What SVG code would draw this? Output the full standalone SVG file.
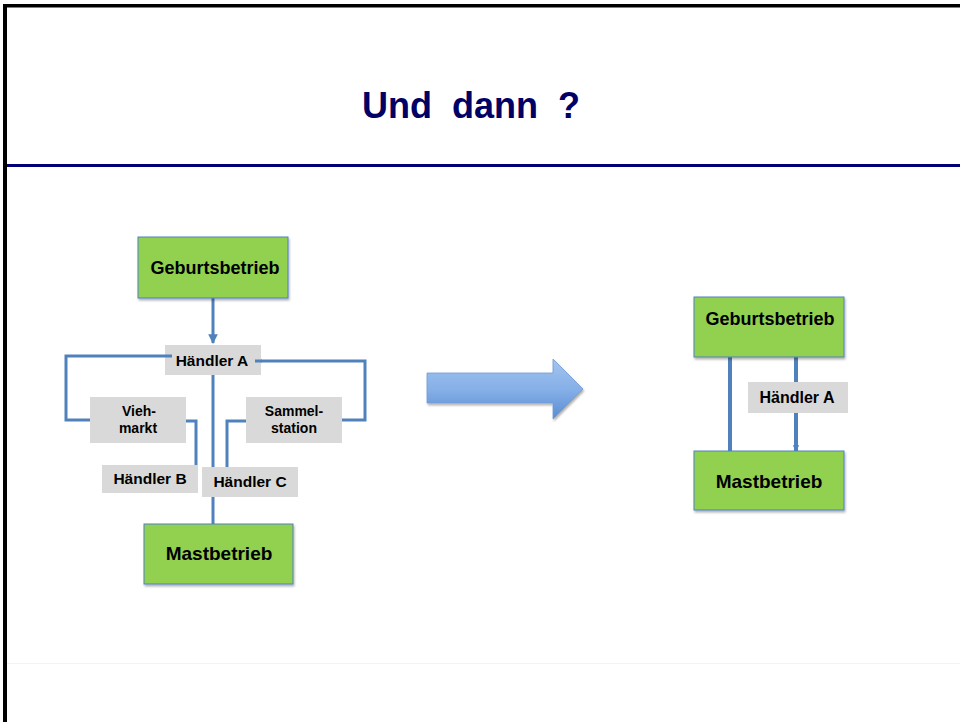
<svg xmlns="http://www.w3.org/2000/svg" width="960" height="722" viewBox="0 0 960 722">
<defs>
<style>
.green{fill:#92D050;stroke:#4F81BD;stroke-width:1}
.gray{fill:#D9D9D9}
.big{font-family:"Liberation Sans",Arial,sans-serif;font-weight:bold;fill:#000;text-anchor:middle}
.lbl{font-family:"Liberation Sans",Arial,sans-serif;font-weight:bold;fill:#000;text-anchor:middle}
.conn{fill:none;stroke:#4F81BD;stroke-width:3}
.conn2{fill:none;stroke:#4F81BD;stroke-width:4}
</style>
<filter id="sh" x="-10%" y="-10%" width="125%" height="135%">
<feDropShadow dx="1" dy="2" stdDeviation="1.2" flood-color="#000" flood-opacity="0.3"/>
</filter>
<marker id="ah" viewBox="0 0 10 10" refX="9" refY="5" markerWidth="3.2" markerHeight="3.2" orient="auto" markerUnits="strokeWidth">
<path d="M0,0 L10,5 L0,10 z" fill="#4F81BD"/>
</marker>
<marker id="ah2" viewBox="0 0 10 10" refX="9" refY="5" markerWidth="1.6" markerHeight="1.8" orient="auto" markerUnits="strokeWidth">
<path d="M0,0 L10,5 L0,10 z" fill="#4F81BD"/>
</marker>
<linearGradient id="ag" x1="0" y1="0" x2="0" y2="1">
<stop offset="0" stop-color="#A3C4F0"/>
<stop offset="0.5" stop-color="#86B0E8"/>
<stop offset="1" stop-color="#5A8CD2"/>
</linearGradient>
</defs>
<rect width="960" height="722" fill="#fff"/>
<g id="frame">
<rect x="3" y="4" width="957" height="3.5" fill="#000"/>
<rect x="3" y="4" width="4" height="718" fill="#000"/>
<rect x="7" y="164" width="953" height="3" fill="#000078"/>
<line x1="7" y1="663.5" x2="960" y2="663.5" stroke="#f3f3f3" stroke-width="1"/>
</g>
<g id="title">
<text x="362" y="118" font-family="Liberation Sans, Arial, sans-serif" font-weight="bold" font-size="36" fill="#000066" xml:space="preserve">Und  dann  ?</text>
</g>
<g id="connectors">
<line class="conn" x1="213" y1="298" x2="213" y2="343" marker-end="url(#ah)"/>
<line class="conn" x1="213" y1="374" x2="213" y2="524"/>
<polyline class="conn" points="172,356 66,356 66,420 92,420"/>
<polyline class="conn" points="255,361 365,361 365,420 340,420"/>
<polyline class="conn" points="184,421 196,421 196,466"/>
<polyline class="conn" points="248,421 227,421 227,468"/>
<line class="conn2" x1="730" y1="357" x2="730" y2="451"/>
<line class="conn2" x1="796" y1="357" x2="796" y2="383"/>
<line class="conn2" x1="796" y1="412" x2="796" y2="451" marker-end="url(#ah2)"/>
</g>
<g id="geburt-left">
<rect class="green" x="138" y="237" width="150" height="61" filter="url(#sh)"/>
<text class="big" x="215" y="274" font-size="18">Geburtsbetrieb</text>
</g>
<g id="haendlerA-left">
<rect class="gray" x="165" y="345" width="96" height="30"/>
<text class="lbl" x="212" y="366" font-size="15.5">Händler A</text>
</g>
<line class="conn" x1="255" y1="361" x2="262" y2="361"/>
<line class="conn" x1="165" y1="356" x2="172" y2="356"/>
<g id="viehmarkt">
<rect class="gray" x="90" y="397" width="96" height="46"/>
<text class="lbl" x="139" y="416" font-size="14">Vieh-</text>
<text class="lbl" x="138" y="433" font-size="14">markt</text>
</g>
<g id="sammelstation">
<rect class="gray" x="246" y="397" width="96" height="46"/>
<text class="lbl" x="294" y="416" font-size="14">Sammel-</text>
<text class="lbl" x="294" y="433" font-size="14">station</text>
</g>
<g id="haendlerB">
<rect class="gray" x="102" y="465" width="96" height="28"/>
<text class="lbl" x="150" y="484" font-size="15.5">Händler B</text>
</g>
<g id="haendlerC">
<rect class="gray" x="202" y="467" width="96" height="30"/>
<text class="lbl" x="250" y="487" font-size="15.5">Händler C</text>
</g>
<g id="mast-left">
<rect class="green" x="144" y="524" width="149" height="60" filter="url(#sh)"/>
<text class="big" x="219" y="560" font-size="19">Mastbetrieb</text>
</g>
<g id="big-arrow">
<path d="M427,373 L553,373 L553,359 L583,389 L553,419 L553,403 L427,403 Z" fill="url(#ag)" stroke="#6F9BD8" stroke-width="0.8" filter="url(#sh)"/>
</g>
<g id="geburt-right">
<rect class="green" x="694" y="297" width="150" height="60" filter="url(#sh)"/>
<text class="big" x="770" y="325" font-size="18">Geburtsbetrieb</text>
</g>
<g id="haendlerA-right">
<rect class="gray" x="748" y="382" width="100" height="31"/>
<text class="lbl" x="797" y="403" font-size="16">Händler A</text>
</g>
<g id="mast-right">
<rect class="green" x="694" y="451" width="150" height="59" filter="url(#sh)"/>
<text class="big" x="769" y="488" font-size="19">Mastbetrieb</text>
</g>
</svg>
